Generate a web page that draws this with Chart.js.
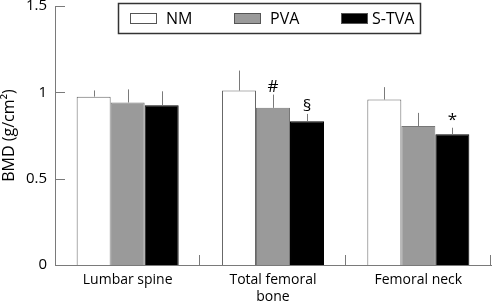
<!DOCTYPE html>
<html>
<head>
<meta charset="utf-8">
<script src="https://cdn.jsdelivr.net/npm/chart.js@4/dist/chart.umd.min.js"></script>
<style>
  html, body { margin: 0; padding: 0; background: #fff; }
  #wrap { width: 494px; height: 304px; }
</style>
</head>
<body>
<div id="wrap"><canvas id="chart"></canvas></div>
<script>
const categories = ["Lumbar spine", ["Total femoral", "bone"], "Femoral neck"];
const groups = ["NM", "PVA", "S-TVA"];

const nmMean = [0.975, 1.01, 0.958];
const pvaMean = [0.941, 0.91, 0.805];
const stvaMean = [0.925, 0.833, 0.757];

// top of each error bar
const nmErr = [1.011, 1.126, 1.03];
const pvaErr = [1.017, 0.987, 0.881];
const stvaErr = [1.006, 0.875, 0.795];

// significance marks
const pvaMarks = ["", "#", ""];
const stvaMarks = ["", "§", "*"];

const yTicks = [0, 0.5, 1, 1.5];

const FONT = "'Open Sans', sans-serif";
const AXIS = "#7a7a7a";

const errPlugin = {
  id: "errbars",
  afterDatasetsDraw(chart) {
    const ctx = chart.ctx;
    const y = chart.scales.y;
    chart.data.datasets.forEach((ds, i) => {
      const meta = chart.getDatasetMeta(i);
      meta.data.forEach((bar, j) => {
        const top = y.getPixelForValue(ds.errTop[j]);
        ctx.save();
        ctx.strokeStyle = AXIS;
        ctx.lineWidth = 1;
        ctx.beginPath();
        ctx.moveTo(Math.round(bar.x) + 0.5, bar.y);
        ctx.lineTo(Math.round(bar.x) + 0.5, top);
        ctx.stroke();
        if (ds.marks && ds.marks[j]) {
          ctx.fillStyle = "#000";
          ctx.font = "17px " + FONT;
          ctx.textAlign = "center";
          ctx.textBaseline = "bottom";
          ctx.fillText(ds.marks[j], bar.x, top + 1);
        }
        ctx.restore();
      });
    });
  }
};

const axisTicks = {
  id: "axisTicks",
  afterDraw(chart) {
    const ctx = chart.ctx;
    const x = chart.scales.x;
    const y = chart.scales.y;
    const area = chart.chartArea;
    ctx.save();
    ctx.strokeStyle = AXIS;
    ctx.lineWidth = 1;
    ctx.beginPath();
    // y ticks, pointing into the plot
    yTicks.forEach(v => {
      const py = Math.round(y.getPixelForValue(v)) + 0.5;
      ctx.moveTo(area.left, py);
      ctx.lineTo(area.left + 10, py);
    });
    // x ticks between categories
    for (let i = 1; i <= categories.length; i++) {
      const px = Math.round(x.getPixelForValue(i - 0.5)) - 0.5;
      ctx.moveTo(px, area.bottom);
      ctx.lineTo(px, area.bottom - 10);
    }
    ctx.stroke();

    // legend box
    const bx = 118.5, by = 3.5, bw = 302, bh = 30;
    ctx.strokeStyle = "#333";
    ctx.lineWidth = 1.5;
    ctx.fillStyle = "#fff";
    ctx.fillRect(bx, by, bw, bh);
    ctx.strokeRect(bx, by, bw, bh);
    const items = [[130, 166], [234, 270], [341, 372]];
    chart.data.datasets.forEach((ds, i) => {
      const [sx, tx] = items[i];
      ctx.fillStyle = ds.backgroundColor;
      ctx.fillRect(sx, 13, 27, 11);
      ctx.strokeStyle = "#555";
      ctx.lineWidth = 1;
      ctx.strokeRect(sx + 0.5, 13.5, 26, 10);
      ctx.fillStyle = "#000";
      ctx.font = "16px " + FONT;
      ctx.textAlign = "left";
      ctx.textBaseline = "middle";
      ctx.fillText(ds.label, tx, 19);
    });
    ctx.restore();
  }
};

new Chart(document.getElementById("chart"), {
  type: "bar",
  data: {
    labels: categories,
    datasets: [
      { label: groups[0], data: nmMean, errTop: nmErr, backgroundColor: "#ffffff", borderColor: "#666", borderWidth: 1 },
      { label: groups[1], data: pvaMean, errTop: pvaErr, marks: pvaMarks, backgroundColor: "#9a9a9a", borderColor: "#777", borderWidth: 1 },
      { label: groups[2], data: stvaMean, errTop: stvaErr, marks: stvaMarks, backgroundColor: "#000000", borderColor: "#000", borderWidth: 1 }
    ]
  },
  options: {
    responsive: true,
    maintainAspectRatio: false,
    animation: false,
    layout: { padding: { top: 6, right: 3, left: 0, bottom: 0 } },
    datasets: { bar: { categoryPercentage: 0.702, barPercentage: 1.0 } },
    plugins: {
      legend: { display: false },
      tooltip: { enabled: false }
    },
    scales: {
      x: {
        grid: { display: false, drawTicks: false },
        border: { display: true, color: AXIS, width: 1 },
        ticks: { color: "#000", font: { family: FONT, size: 14 }, padding: 7, maxRotation: 0 },
        afterFit: s => { s.height = 39; }
      },
      y: {
        min: 0,
        max: 1.5,
        afterBuildTicks: s => { s.ticks = yTicks.map(v => ({ value: v })); },
        grid: { display: false, drawTicks: false },
        border: { display: true, color: AXIS, width: 1 },
        ticks: { color: "#000", font: { family: FONT, size: 15 }, padding: 8, callback: v => String(v) },
        title: { display: true, text: "BMD (g/cm²)", color: "#000", font: { family: FONT, size: 16 }, padding: 0 },
        afterFit: s => { s.width = 55; s.paddingTop = 0; }
      }
    }
  },
  plugins: [errPlugin, axisTicks]
});
</script>
</body>
</html>
